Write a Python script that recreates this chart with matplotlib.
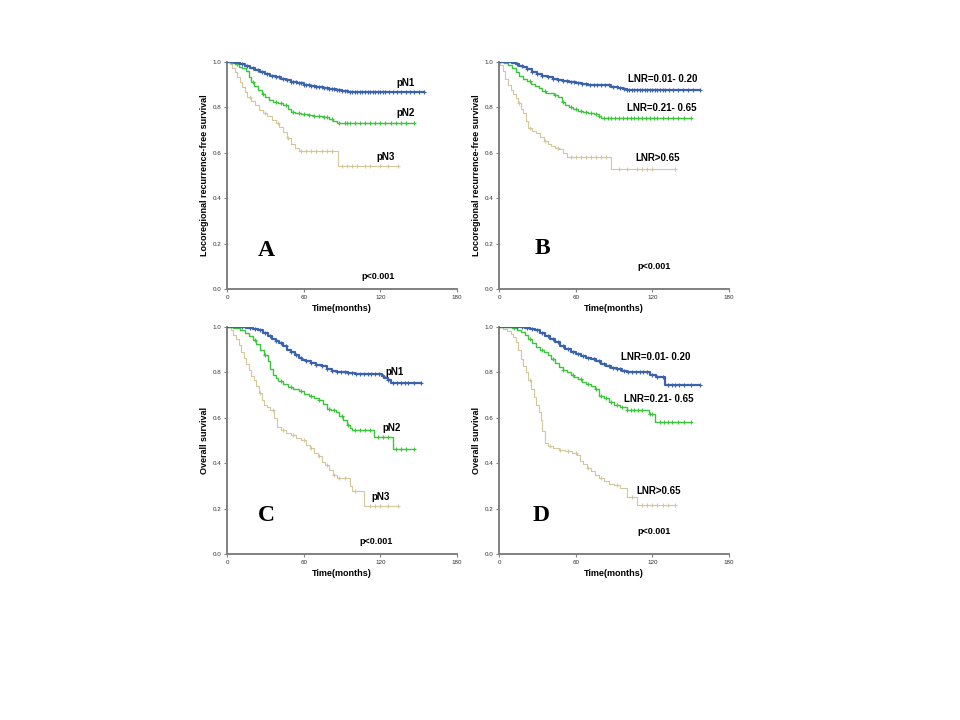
import numpy as np
import matplotlib
matplotlib.use("Agg")
import matplotlib.pyplot as plt

# ---------------- data ----------------
# Panel A: locoregional recurrence-free survival by pN
a_pn1_t = [6,10,14,18,22,26,30,34,38,42,46,50,55,60,65,70,75,80,85,90,95]
a_pn1_s = [.995,.99,.982,.972,.963,.955,.948,.94,.933,.926,.92,.913,.906,.90,.895,.89,.885,.88,.876,.872,.866]
a_pn1_c = [12,16,20,24,27,31,35,38,41,44,47,50,52,54,56,58,60,62,64,66,68,70,72,74,76,78,80,82,84,86,88,90,92,94,96,98,100,102,104,106,108,110,112,114,116,118,120,122,124,127,130,133,136,140,143,146,150,154]
a_pn2_t = [3,6,9,12,15,17,19,21,24,27,30,33,36,40,44,48,50,53,58,63,67,75,80,83,86]
a_pn2_s = [.995,.99,.98,.972,.96,.935,.91,.895,.875,.86,.845,.833,.825,.82,.81,.795,.78,.775,.77,.765,.76,.757,.748,.74,.732]
a_pn2_c = [8,20,28,38,42,46,52,56,60,64,68,72,76,78,82,88,92,94,96,100,104,108,112,116,120,124,128,132,136,140,146]
a_pn3_t = [2,4,6,8,10,12,14,16,19,22,25,28,31,35,38,41,44,47,50,53,56,87]
a_pn3_s = [.99,.975,.955,.935,.91,.89,.87,.845,.83,.81,.79,.775,.76,.745,.73,.715,.69,.665,.64,.62,.607,.54]
a_pn3_c = [18,30,40,48,58,62,66,70,74,78,82,90,94,98,102,108,112,120,126,134]

# Panel B: locoregional recurrence-free survival by LNR
b_lnr1_t = [10,13,16,19,22,26,30,34,38,42,46,50,55,60,65,70,80,88,93,97,100]
b_lnr1_s = [.995,.99,.984,.976,.968,.958,.948,.94,.933,.926,.92,.915,.91,.906,.903,.9,.897,.892,.886,.88,.877]
b_lnr1_c = [14,18,22,26,30,34,38,42,46,50,53,56,59,62,65,68,71,74,77,80,83,86,89,92,95,98,100,102,104,106,108,110,112,114,116,118,120,122,124,126,128,130,133,136,140,144,148,152,157]
b_lnr2_t = [4,7,10,13,16,19,22,25,28,31,34,37,40,43,46,49,52,55,58,62,66,70,74,78,80]
b_lnr2_s = [.995,.985,.973,.955,.94,.925,.915,.905,.895,.885,.872,.865,.862,.855,.845,.825,.812,.80,.792,.786,.78,.775,.772,.76,.753]
b_lnr2_c = [24,36,44,50,56,60,64,68,72,76,78,82,85,88,91,94,97,100,103,106,109,112,115,118,121,124,128,132,136,140,145,150]
b_lnr3_t = [1,3,5,7,9,11,13,15,17,19,21,23,26,29,32,35,38,41,44,47,50,53,88]
b_lnr3_s = [.985,.96,.925,.9,.875,.86,.84,.82,.795,.775,.74,.708,.698,.688,.668,.65,.638,.63,.622,.615,.60,.58,.528]
b_lnr3_c = [16,24,36,46,56,60,64,68,72,76,80,84,94,100,108,112,116,120,138]

# Panel C: overall survival by pN
c_pn1_t = [15,20,24,28,32,35,38,41,44,47,50,53,56,59,62,66,70,74,78,82,86,90,95,100,121,123,126,128]
c_pn1_s = [.997,.993,.985,.975,.962,.948,.938,.928,.915,.9,.888,.875,.865,.855,.848,.84,.834,.826,.816,.808,.802,.8,.797,.793,.785,.775,.765,.752]
c_pn1_c = [12,18,22,26,30,34,38,42,46,50,54,58,62,66,70,74,78,82,86,89,92,95,98,101,104,107,110,113,116,119,122,126,130,133,136,139,142,146,152]
c_pn2_t = [5,10,14,17,20,23,26,29,32,34,36,38,40,44,48,52,56,60,64,68,72,75,78,81,85,88,91,94,96,98,115,130]
c_pn2_s = [.996,.988,.975,.96,.944,.925,.9,.875,.85,.815,.79,.775,.76,.748,.736,.727,.718,.705,.697,.688,.68,.66,.64,.632,.625,.608,.59,.57,.555,.545,.515,.462]
c_pn2_c = [22,30,42,50,58,66,72,80,84,90,95,100,104,108,112,118,122,126,132,136,140,146]
c_pn3_t = [3,5,7,9,11,13,15,17,19,21,23,25,27,29,31,34,37,39,42,46,50,54,58,62,65,68,71,74,77,80,83,86,96,98,107]
c_pn3_s = [.988,.965,.945,.92,.89,.865,.835,.81,.785,.765,.74,.71,.68,.655,.648,.635,.6,.56,.545,.535,.525,.51,.5,.48,.465,.445,.43,.405,.39,.37,.35,.333,.3,.278,.212]
c_pn3_c = [26,36,44,52,60,66,72,78,84,88,92,100,112,116,120,126,134]

# Panel D: overall survival by LNR
d_lnr1_t = [20,24,28,32,36,40,44,48,52,56,60,64,68,72,76,80,84,88,92,96,100,118,123,130]
d_lnr1_s = [.997,.993,.985,.975,.962,.948,.935,.918,.902,.89,.88,.872,.865,.858,.848,.838,.828,.82,.813,.806,.80,.788,.778,.745]
d_lnr1_c = [14,18,22,26,30,34,38,42,46,50,54,58,62,66,70,74,78,82,86,89,92,95,98,101,104,107,110,113,116,120,124,128,132,135,138,141,145,150,157]
d_lnr2_t = [10,14,17,20,23,26,29,32,35,38,41,44,47,50,53,56,59,62,65,68,72,75,78,82,86,90,95,100,117,122]
d_lnr2_s = [.996,.988,.977,.966,.948,.93,.912,.9,.89,.875,.86,.84,.825,.812,.8,.79,.78,.77,.758,.75,.74,.728,.695,.686,.67,.657,.648,.635,.617,.58]
d_lnr2_c = [12,24,34,42,50,58,64,70,76,80,84,88,92,96,100,103,106,109,112,118,120,126,129,132,135,140,145,150]
d_lnr3_t = [3,6,9,11,13,15,17,19,21,23,25,27,29,31,33,34,36,38,42,47,52,57,61,63,66,69,72,75,78,82,86,90,95,100,108]
d_lnr3_s = [.99,.982,.968,.955,.935,.9,.86,.83,.8,.765,.725,.69,.655,.625,.59,.54,.49,.475,.468,.46,.452,.445,.435,.41,.395,.38,.365,.35,.333,.32,.31,.303,.29,.252,.215]
d_lnr3_c = [24,40,48,54,60,70,80,92,104,112,116,120,124,128,132,138]

pn_labels = ["pN1", "pN2", "pN3"]
lnr_labels = ["LNR=0.01- 0.20", "LNR=0.21- 0.65", "LNR>0.65"]
panel_letters = ["A", "B", "C", "D"]
ylabels = ["Locoregional recurrence-free survival", "Locoregional recurrence-free survival",
           "Overall survival", "Overall survival"]
xlabel = "Time(months)"
xticks = [0, 60, 120, 180]
yticks = [0.0, 0.2, 0.4, 0.6, 0.8, 1.0]
p_text = "p<0.001"

# ---------------- styling ----------------
colors = ["#3a62ad", "#3cc43c", "#d4c79c"]
lws = [1.6, 1.0, 0.8]
mss = [3.5, 3.5, 3.5]

panels = [
    dict(curves=[(a_pn1_t, a_pn1_s, a_pn1_c), (a_pn2_t, a_pn2_s, a_pn2_c), (a_pn3_t, a_pn3_s, a_pn3_c)],
         labels=pn_labels, label_pos=[(140, 0.909), (140, 0.777), (124, 0.583)],
         letter_pos=(31, 0.17), p_pos=(118, 0.056), rect=[0.2365, 0.5986, 0.2396, 0.3153]),
    dict(curves=[(b_lnr1_t, b_lnr1_s, b_lnr1_c), (b_lnr2_t, b_lnr2_s, b_lnr2_c), (b_lnr3_t, b_lnr3_s, b_lnr3_c)],
         labels=lnr_labels, label_pos=[(128, 0.925), (127, 0.797), (124, 0.576)],
         letter_pos=(34, 0.178), p_pos=(121, 0.10), rect=[0.5198, 0.5986, 0.2396, 0.3153]),
    dict(curves=[(c_pn1_t, c_pn1_s, c_pn1_c), (c_pn2_t, c_pn2_s, c_pn2_c), (c_pn3_t, c_pn3_s, c_pn3_c)],
         labels=pn_labels, label_pos=[(131, 0.80), (129, 0.554), (120, 0.252)],
         letter_pos=(31, 0.17), p_pos=(117, 0.053), rect=[0.2365, 0.2306, 0.2396, 0.3153]),
    dict(curves=[(d_lnr1_t, d_lnr1_s, d_lnr1_c), (d_lnr2_t, d_lnr2_s, d_lnr2_c), (d_lnr3_t, d_lnr3_s, d_lnr3_c)],
         labels=lnr_labels, label_pos=[(123, 0.866), (125, 0.683), (125, 0.277)],
         letter_pos=(33, 0.17), p_pos=(121, 0.10), rect=[0.5198, 0.2306, 0.2396, 0.3153]),
]

plt.rcParams['font.family'] = ['Liberation Sans', 'DejaVu Sans']
fig = plt.figure(figsize=(9.6, 7.2), dpi=100)
fig.patch.set_facecolor("white")

def surv_at(times, surv, x):
    idx = np.searchsorted(times, x, side="right") - 1
    return np.where(idx >= 0, np.asarray(surv)[np.clip(idx, 0, None)], 1.0)

for i, p in enumerate(panels):
    ax = fig.add_axes(p["rect"])
    for j, (t, s, c) in enumerate(p["curves"]):
        t = np.asarray(t, float)
        s = np.asarray(s, float)
        c = np.asarray(c, float)
        end = c.max()
        xs = np.concatenate([[0], t, [end]])
        ys = np.concatenate([[1.0], s, [s[-1]]])
        ax.step(xs, ys, where="post", color=colors[j], lw=lws[j], zorder=3 - j)
        ax.plot(c, surv_at(t, s, c), linestyle="none", marker="+", ms=mss[j], mew=0.8,
                color=colors[j], zorder=3 - j)
        lx, ly = p["label_pos"][j]
        ax.text(lx, ly, p["labels"][j], fontsize=7, fontweight="bold", ha="center", va="center")
    ax.text(*p["letter_pos"], panel_letters[i], fontsize=17, fontweight="bold",
            family=["Liberation Serif", "DejaVu Serif"], ha="center", va="center")
    ax.text(*p["p_pos"], p_text, fontsize=6.5, fontweight="bold", ha="center", va="center")
    ax.set_xlim(0, 180)
    ax.set_ylim(0, 1.0)
    ax.set_xticks(xticks)
    ax.set_xticklabels([str(v) for v in xticks])
    ax.set_yticks(yticks)
    ax.set_yticklabels([f"{v:.1f}" for v in yticks])
    ax.tick_params(labelsize=4.5, length=2.5, width=0.8, color="#808080", pad=1.5, labelcolor="#333333")
    for side in ["top", "right"]:
        ax.spines[side].set_visible(False)
    for side in ["left", "bottom"]:
        ax.spines[side].set_color("#808080")
        ax.spines[side].set_linewidth(1.4)
    ax.set_xlabel(xlabel, fontsize=6.5, fontweight="bold", labelpad=3)
    ax.set_ylabel(ylabels[i], fontsize=6.5, fontweight="bold", labelpad=3)
    ax.set_facecolor("white")

fig.savefig("out.png", dpi=100, facecolor="white")
